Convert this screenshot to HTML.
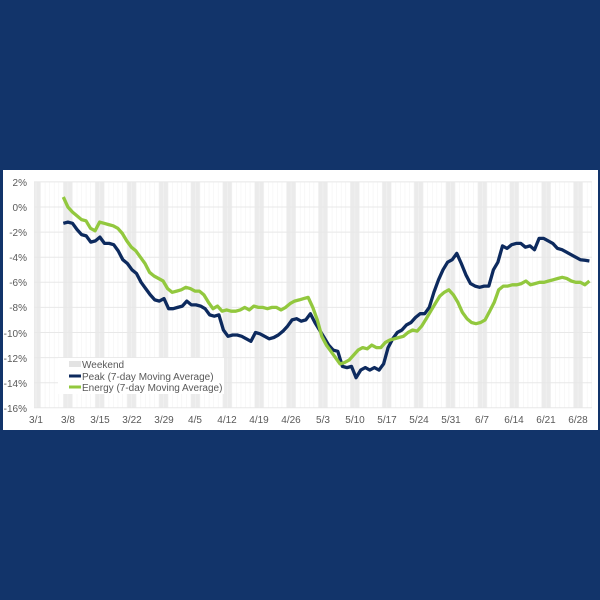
<!DOCTYPE html>
<html><head><meta charset="utf-8"><style>
html,body{margin:0;padding:0;background:#12346a;}
svg{display:block}
text{font-family:"Liberation Sans",sans-serif;font-size:10px;fill:#595959}
</style></head><body>
<svg id="s" width="600" height="600" xmlns="http://www.w3.org/2000/svg">
<rect x="0" y="0" width="600" height="600" fill="#12346a"/>
<rect x="3" y="170" width="595" height="260" fill="#fff"/>
<g id="bands"></g>
<g id="grid"></g>
<g text-anchor="end">
<text x="27" y="186">2%</text><text x="27" y="211">0%</text><text x="27" y="236">-2%</text>
<text x="27" y="261">-4%</text><text x="27" y="286">-6%</text><text x="27" y="311">-8%</text>
<text x="27" y="337">-10%</text><text x="27" y="362">-12%</text><text x="27" y="387">-14%</text>
<text x="27" y="412">-16%</text>
</g>
<g text-anchor="middle">
<text x="36" y="423">3/1</text><text x="68" y="423">3/8</text><text x="100" y="423">3/15</text>
<text x="132" y="423">3/22</text><text x="164" y="423">3/29</text><text x="195" y="423">4/5</text>
<text x="227" y="423">4/12</text><text x="259" y="423">4/19</text><text x="291" y="423">4/26</text>
<text x="323" y="423">5/3</text><text x="355" y="423">5/10</text><text x="387" y="423">5/17</text>
<text x="419" y="423">5/24</text><text x="451" y="423">5/31</text><text x="482" y="423">6/7</text>
<text x="514" y="423">6/14</text><text x="546" y="423">6/21</text><text x="578" y="423">6/28</text>
</g>
<path id="pe" fill="none" stroke="#0d2a5e" stroke-width="3.3" stroke-linejoin="round"/>
<path id="en" fill="none" stroke="#92c83e" stroke-width="3.3" stroke-linejoin="round"/>
<rect x="58" y="358" width="166" height="36" fill="#fff"/>
<rect x="69" y="361" width="12" height="6" fill="#e3e3e3"/>
<line x1="69" y1="376" x2="81" y2="376" stroke="#0d2a5e" stroke-width="3"/>
<line x1="69" y1="387" x2="81" y2="387" stroke="#92c83e" stroke-width="3"/>
<text x="82" y="368">Weekend</text>
<text x="82" y="380">Peak (7-day Moving Average)</text>
<text x="82" y="391">Energy (7-day Moving Average)</text>
</svg>
<script>
var X=d=>36+d*4.555, Y=v=>207-v*12.55, NS="http://www.w3.org/2000/svg";
var b=document.getElementById('bands'),g=document.getElementById('grid');
function el(p,t,a){var e=document.createElementNS(NS,t);for(var k in a)e.setAttribute(k,a[k]);p.appendChild(e);}
for(var d=-1;d<125;d+=7){var x1=Math.max(34,X(d)),x2=Math.min(592,X(d+2));if(x2>x1)el(b,'rect',{x:x1,y:182,width:x2-x1,height:226,fill:'#ebebeb'});}
for(var d=0;d<=122;d++)el(g,'line',{x1:X(d),x2:X(d),y1:182,y2:408,stroke:'#f3f3f3','stroke-width':0.6});
for(var v=2;v>=-16;v-=2)el(g,'line',{x1:34,x2:592,y1:Y(v),y2:Y(v),stroke:'#e8e8e8','stroke-width':1});
var P=[-1.3,-1.2,-1.3,-1.8,-2.2,-2.3,-2.8,-2.7,-2.4,-2.9,-2.9,-3.0,-3.5,-4.2,-4.5,-5.0,-5.3,-6.0,-6.5,-7.0,-7.4,-7.5,-7.3,-8.1,-8.1,-8.0,-7.9,-7.5,-7.8,-7.8,-7.9,-8.1,-8.6,-8.7,-8.6,-9.8,-10.3,-10.2,-10.2,-10.3,-10.5,-10.7,-10.0,-10.1,-10.3,-10.5,-10.4,-10.2,-9.9,-9.5,-9.0,-8.9,-9.1,-9.0,-8.5,-9.2,-9.8,-10.4,-11.0,-11.4,-11.5,-12.7,-12.8,-12.7,-13.6,-13.0,-12.8,-13.0,-12.8,-13.0,-12.5,-11.2,-10.5,-10.0,-9.8,-9.4,-9.2,-8.8,-8.5,-8.5,-8.0,-6.8,-5.8,-5.0,-4.4,-4.2,-3.7,-4.5,-5.4,-6.1,-6.3,-6.4,-6.3,-6.3,-5.0,-4.4,-3.1,-3.3,-3.0,-2.9,-2.9,-3.2,-3.1,-3.4,-2.5,-2.5,-2.7,-2.9,-3.3,-3.4,-3.6,-3.8,-4.0,-4.2,-4.25,-4.3];
var E=[0.8,0.0,-0.4,-0.7,-1.0,-1.1,-1.7,-1.9,-1.2,-1.3,-1.4,-1.5,-1.7,-2.1,-2.7,-3.2,-3.5,-4.0,-4.5,-5.2,-5.5,-5.7,-5.9,-6.5,-6.8,-6.7,-6.6,-6.4,-6.5,-6.7,-6.7,-7.0,-7.6,-8.1,-7.9,-8.3,-8.2,-8.3,-8.3,-8.2,-8.0,-8.2,-7.9,-8.0,-8.0,-8.1,-8.0,-8.0,-8.2,-8.0,-7.7,-7.5,-7.4,-7.3,-7.2,-8.0,-9.0,-10.3,-11.0,-11.5,-12.0,-12.5,-12.4,-12.2,-11.8,-11.4,-11.2,-11.3,-11.0,-11.2,-11.2,-10.8,-10.6,-10.5,-10.4,-10.3,-10.0,-9.8,-9.9,-9.5,-8.9,-8.3,-7.7,-7.1,-6.8,-6.6,-7.0,-7.6,-8.4,-8.9,-9.2,-9.3,-9.2,-9.0,-8.3,-7.6,-6.6,-6.3,-6.3,-6.2,-6.2,-6.1,-5.9,-6.2,-6.1,-6.0,-6.0,-5.9,-5.8,-5.7,-5.6,-5.7,-5.9,-6.0,-6.0,-6.2,-5.9];
function path(a){return a.map((v,i)=>(i?'L':'M')+X(6+i*(115.5/(a.length-1))).toFixed(1)+' '+Y(v).toFixed(1)).join(' ');}
document.getElementById('pe').setAttribute('d',path(P));
document.getElementById('en').setAttribute('d',path(E));
</script>
</body></html>
